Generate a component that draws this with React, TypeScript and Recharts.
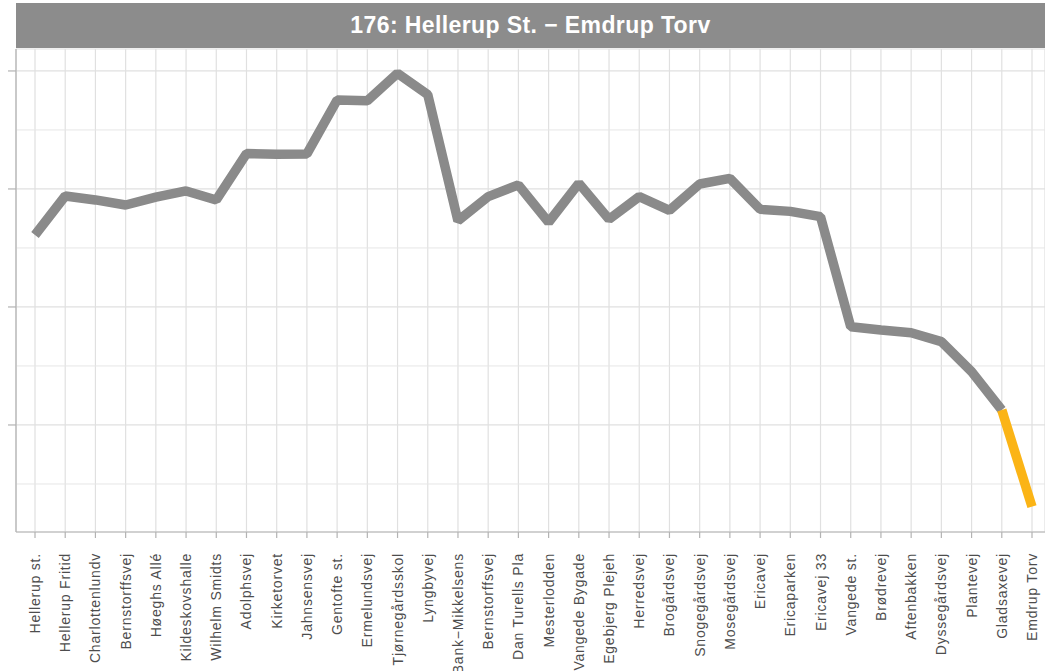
import React from "react";
import { LineChart, Line, XAxis, YAxis, CartesianGrid, ReferenceLine } from "recharts";

const stops = [
  "Hellerup st.", "Hellerup Fritid", "Charlottenlundv", "Bernstorffsvej", "Høeghs Allé",
  "Kildeskovshalle", "Wilhelm Smidts", "Adolphsvej", "Kirketorvet", "Jahnsensvej",
  "Gentofte st.", "Ermelundsvej", "Tjørnegårdsskol", "Lyngbyvej", "Bank−Mikkelsens",
  "Bernstorffsvej", "Dan Turells Pla", "Mesterlodden", "Vangede Bygade", "Egebjerg Plejeh",
  "Herredsvej", "Brogårdsvej", "Snogegårdsvej", "Mosegårdsvej", "Ericavej",
  "Ericaparken", "Ericavej 33", "Vangede st.", "Brødrevej", "Aftenbakken",
  "Dyssegårdsvej", "Plantevej", "Gladsaxevej", "Emdrup Torv",
];

const values = [
  2.61, 2.94, 2.907, 2.864, 2.93, 2.983, 2.907, 3.3, 3.294, 3.297,
  3.754, 3.748, 3.98, 3.8, 2.73, 2.935, 3.034, 2.718, 3.048, 2.743,
  2.935, 2.818, 3.042, 3.09, 2.828, 2.81, 2.765, 1.833, 1.805, 1.782,
  1.706, 1.452, 1.127, 0.308,
];

// index from which the final (highlighted) segment starts
const highlightFrom = 32;

const majorTicks = [1, 2, 3, 4];
const minorTicks = [0.5, 1.5, 2.5, 3.5];
const title = "176: Hellerup St. − Emdrup Torv";

const data = stops.map((name, i) => ({
  idx: i,
  name,
  base: i <= highlightFrom ? values[i] : null,
  last: i >= highlightFrom ? values[i] : null,
}));

const FONT = "'Liberation Sans', Arial, Helvetica, sans-serif";

const StopTick = (props: any) => {
  const { x, y, payload } = props;
  const label = stops[payload.value] ?? "";
  return (
    <text
      x={x}
      y={y}
      transform={`rotate(-90 ${x} ${y})`}
      textAnchor="end"
      dominantBaseline="central"
      fontSize={14}
      letterSpacing={0.8}
      fontFamily={FONT}
      fill="#4d4d4d"
    >
      {label}
    </text>
  );
};

const EmptyTick = () => <g />;

export default function App() {
  return (
    <div style={{ position: "absolute", left: 0, top: 0, width: 1045, height: 671, background: "#fff", overflow: "hidden" }}>
      <div
        style={{
          position: "absolute",
          left: 16,
          top: 3,
          width: 1029,
          height: 45,
          background: "#8c8c8c",
          color: "#ffffff",
          fontFamily: FONT,
          fontWeight: "bold",
          fontSize: 23,
          letterSpacing: 0.4,
          lineHeight: "45px",
          textAlign: "center",
        }}
      >
        {title}
      </div>
      <LineChart
        width={1045}
        height={671}
        data={data}
        margin={{ top: 49, right: 0, bottom: 0, left: 0 }}
      >
        <CartesianGrid stroke="#e0e0e0" strokeWidth={1.2} />
        {minorTicks.map((v) => (
          <ReferenceLine key={v} y={v} stroke="#e6e6e6" strokeWidth={1} ifOverflow="hidden" />
        ))}
        <XAxis
          dataKey="idx"
          type="category"
          interval={0}
          padding={{ left: 19, right: 13 }}
          height={139}
          tickSize={6}
          tickMargin={15}
          tick={<StopTick />}
          axisLine={{ stroke: "#b3b3b3", strokeWidth: 1.2 }}
          tickLine={{ stroke: "#b3b3b3", strokeWidth: 1.2 }}
        />
        <YAxis
          type="number"
          width={16}
          domain={[0.093, 4.186]}
          allowDataOverflow
          ticks={majorTicks}
          interval={0}
          tick={<EmptyTick />}
          tickSize={8}
          axisLine={{ stroke: "#b3b3b3", strokeWidth: 1.2 }}
          tickLine={{ stroke: "#b3b3b3", strokeWidth: 1.2 }}
        />
        <Line
          type="linear"
          dataKey="base"
          stroke="#8a8a8a"
          strokeWidth={9.5}
          strokeLinecap="butt"
          strokeLinejoin="bevel"
          dot={false}
          activeDot={false}
          isAnimationActive={false}
        />
        <Line
          type="linear"
          dataKey="last"
          stroke="#fbb416"
          strokeWidth={9.5}
          strokeLinecap="butt"
          strokeLinejoin="bevel"
          dot={false}
          activeDot={false}
          isAnimationActive={false}
        />
      </LineChart>
    </div>
  );
}
